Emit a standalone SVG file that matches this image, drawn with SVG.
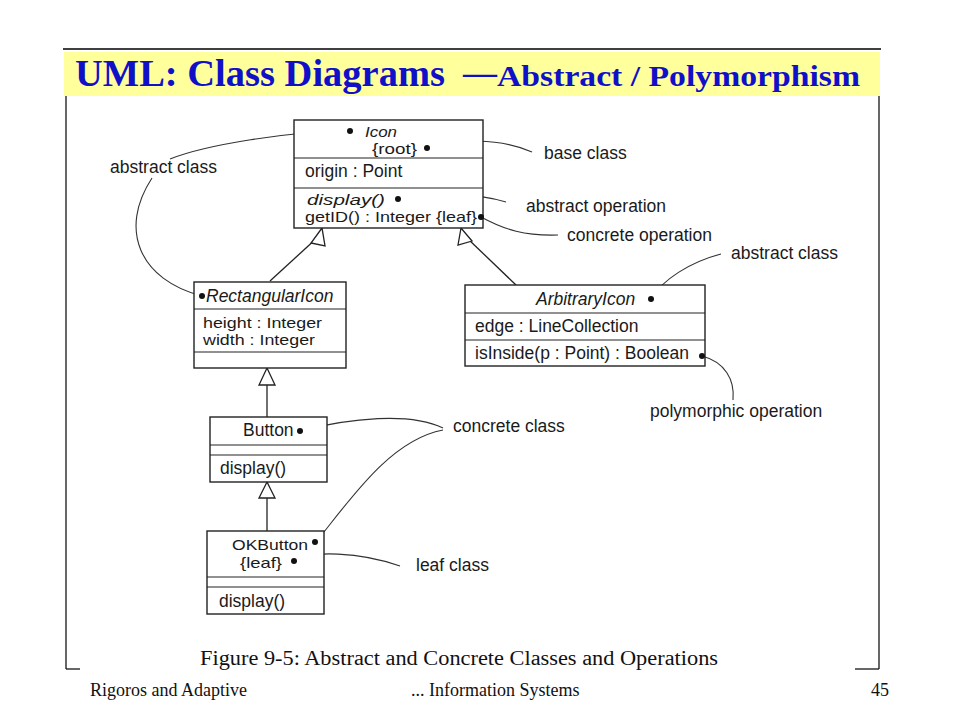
<svg xmlns="http://www.w3.org/2000/svg" width="960" height="720" viewBox="0 0 960 720">
<style>
.box{fill:#fff;stroke:#222;stroke-width:1.4}
.div{stroke:#222;stroke-width:1.2}
.t{font-family:"Liberation Sans",Arial,sans-serif;font-size:17.5px;fill:#1a1a1a}
.s{font-size:15px}
.i{font-style:italic}
.a{font-family:"Liberation Sans",Arial,sans-serif;font-size:17.5px;fill:#1a1a1a}
.lead{fill:none;stroke:#333;stroke-width:1.1}
.gen{fill:none;stroke:#222;stroke-width:1.3}
.tri{fill:#fff;stroke:#222;stroke-width:1.3}
.dot{fill:#111}
.serif{font-family:"Liberation Serif","Times New Roman",serif;fill:#111}
.ttl{font-family:"Liberation Serif","Times New Roman",serif;font-weight:bold;fill:#1010c8}
</style>
<rect width="960" height="720" fill="#fff"/>
<g id="frame">
<line x1="63" y1="49" x2="881" y2="49" stroke="#000" stroke-width="1.5"/>
<rect x="64" y="52" width="816" height="44" fill="#ffff9c"/>
<line x1="66" y1="96" x2="66" y2="669" stroke="#000" stroke-width="1.2"/>
<line x1="879" y1="96" x2="879" y2="669" stroke="#000" stroke-width="1.2"/>
<line x1="66" y1="669" x2="80" y2="669" stroke="#000" stroke-width="1.2"/>
<line x1="855" y1="669" x2="879" y2="669" stroke="#000" stroke-width="1.2"/>
</g>
<g id="title">
<text class="ttl" x="75" y="86" font-size="37" textLength="370" lengthAdjust="spacingAndGlyphs">UML: Class Diagrams</text>
<text class="ttl" x="463" y="84" font-size="34">—</text>
<text class="ttl" x="497" y="86" font-size="30" textLength="363" lengthAdjust="spacingAndGlyphs">Abstract / Polymorphism</text>
</g>
<g id="connectors">
<line class="gen" x1="270" y1="281" x2="318" y2="237"/>
<polygon class="tri" points="322,228 311,243 325,246"/>
<line class="gen" x1="516" y1="285" x2="467" y2="238"/>
<polygon class="tri" points="461,228 458,245 472,241"/>
<line class="gen" x1="267" y1="385" x2="267" y2="417"/>
<polygon class="tri" points="267,368 259,385 275,385"/>
<line class="gen" x1="267" y1="498" x2="267" y2="531"/>
<polygon class="tri" points="267,482 259,498 275,498"/>
<path class="lead" d="M350,131 C290,131 205,145 170,159"/>
<path class="lead" d="M152,178 C118,230 140,280 202,296"/>
<path class="lead" d="M427,148 C455,138 500,138 532,152"/>
<path class="lead" d="M398,199 C430,190 480,194 506,202"/>
<path class="lead" d="M481,217 C505,230 525,236 558,235"/>
<path class="lead" d="M651,299 C662,280 690,262 721,254"/>
<path class="lead" d="M702,356 C725,362 735,380 733,400"/>
<path class="lead" d="M300,431 C350,418 410,412 443,428"/>
<path class="lead" d="M443,430 C390,440 350,500 316,542"/>
<path class="lead" d="M294,561 C310,550 360,552 400,566"/>
</g>
<g id="Icon">
<rect class="box" x="294" y="120" width="189" height="108"/>
<line class="div" x1="294" y1="158" x2="483" y2="158"/>
<line class="div" x1="294" y1="188" x2="483" y2="188"/>
<text class="t s i" x="365" y="137" textLength="32" lengthAdjust="spacingAndGlyphs">Icon</text>
<text class="t s" x="372" y="154" textLength="45" lengthAdjust="spacingAndGlyphs">{root}</text>
<text class="t" x="305" y="177">origin : Point</text>
<text class="t s i" x="307" y="205" textLength="78" lengthAdjust="spacingAndGlyphs">display()</text>
<text class="t s" x="305" y="222" textLength="172" lengthAdjust="spacingAndGlyphs">getID() : Integer {leaf}</text>
<circle class="dot" cx="350" cy="131" r="3"/>
<circle class="dot" cx="427" cy="148" r="3"/>
<circle class="dot" cx="398" cy="199" r="3"/>
<circle class="dot" cx="481" cy="217" r="3"/>
</g>
<g id="RectangularIcon">
<rect class="box" x="194" y="282" width="152" height="86"/>
<line class="div" x1="194" y1="309" x2="346" y2="309"/>
<line class="div" x1="194" y1="352" x2="346" y2="352"/>
<text class="t i" x="206" y="302">RectangularIcon</text>
<text class="t s" x="203" y="328" textLength="119" lengthAdjust="spacingAndGlyphs">height : Integer</text>
<text class="t s" x="203" y="345" textLength="112" lengthAdjust="spacingAndGlyphs">width : Integer</text>
<circle class="dot" cx="202" cy="296" r="3"/>
</g>
<g id="ArbitraryIcon">
<rect class="box" x="465" y="285" width="240" height="81"/>
<line class="div" x1="465" y1="313" x2="705" y2="313"/>
<line class="div" x1="465" y1="340" x2="705" y2="340"/>
<text class="t i" x="536" y="305">ArbitraryIcon</text>
<text class="t" x="475" y="332">edge : LineCollection</text>
<text class="t" x="475" y="359">isInside(p : Point) : Boolean</text>
<circle class="dot" cx="651" cy="299" r="3"/>
<circle class="dot" cx="702" cy="356" r="3"/>
</g>
<g id="Button">
<rect class="box" x="210" y="417" width="117" height="65"/>
<line class="div" x1="210" y1="445" x2="327" y2="445"/>
<line class="div" x1="210" y1="455" x2="327" y2="455"/>
<text class="t" x="243" y="436">Button</text>
<text class="t" x="220" y="474">display()</text>
<circle class="dot" cx="300" cy="431" r="3"/>
</g>
<g id="OKButton">
<rect class="box" x="207" y="531" width="117" height="83"/>
<line class="div" x1="207" y1="577" x2="324" y2="577"/>
<line class="div" x1="207" y1="587" x2="324" y2="587"/>
<text class="t s" x="232" y="550" textLength="76" lengthAdjust="spacingAndGlyphs">OKButton</text>
<text class="t s" x="240" y="568" textLength="42" lengthAdjust="spacingAndGlyphs">{leaf}</text>
<text class="t" x="219" y="607">display()</text>
<circle class="dot" cx="315" cy="542" r="3"/>
<circle class="dot" cx="294" cy="561" r="3"/>
</g>
<g id="notes">
<text class="a" x="110" y="173">abstract class</text>
<text class="a" x="544" y="159">base class</text>
<text class="a" x="526" y="212">abstract operation</text>
<text class="a" x="567" y="241">concrete operation</text>
<text class="a" x="731" y="259">abstract class</text>
<text class="a" x="650" y="417">polymorphic operation</text>
<text class="a" x="453" y="432">concrete class</text>
<text class="a" x="416" y="571">leaf class</text>
</g>
<g id="caption">
<text class="serif" x="200" y="665" font-size="20" textLength="518" lengthAdjust="spacingAndGlyphs">Figure 9-5: Abstract and Concrete Classes and Operations</text>
</g>
<g id="footer">
<text class="serif" x="90" y="696" font-size="18" fill="#000">Rigoros and Adaptive</text>
<text class="serif" x="411" y="696" font-size="18" fill="#000">... Information Systems</text>
<text class="serif" x="889" y="696" font-size="18" fill="#000" text-anchor="end">45</text>
</g>
</svg>
